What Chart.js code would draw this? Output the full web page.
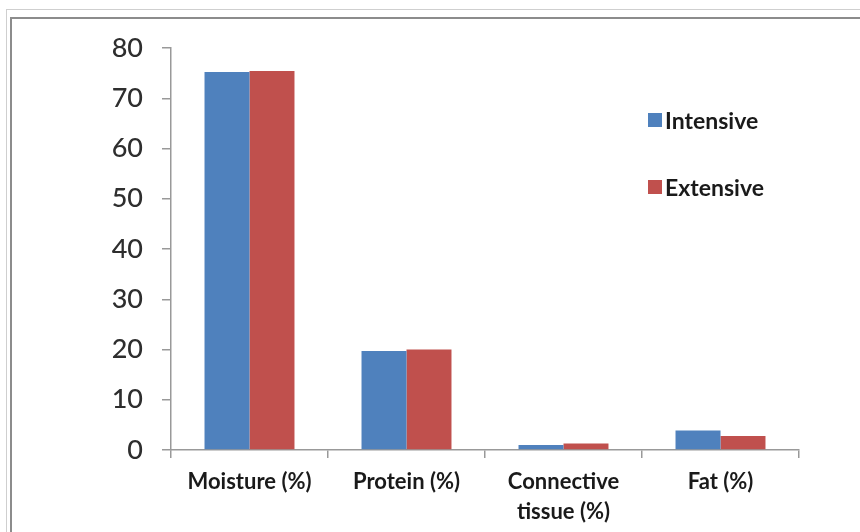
<!DOCTYPE html>
<html>
<head>
<meta charset="utf-8">
<script src="https://cdn.jsdelivr.net/npm/chart.js@4"></script>
<style>
  body { margin: 0; background: #fff; }
  #wrap { position: relative; width: 860px; height: 532px; overflow: hidden; }
  .frameOuter { position: absolute; left: 6px; top: 9px; width: 900px; height: 600px;
    border-top: 1px solid #cfcfcf; border-left: 1px solid #cfcfcf; }
  .frameInner { position: absolute; left: 10px; top: 17px; width: 900px; height: 600px;
    border-top: 2px solid #8c8c8c; border-left: 2px solid #8c8c8c; }
  #chartBox { position: absolute; left: 0; top: 0; width: 860px; height: 532px; }
  #legend { position: absolute; left: 648px; top: 0; font-family: Lato, sans-serif;
    font-size: 23px; font-weight: 700; color: #1a1a1a; }
  .item { position: absolute; white-space: nowrap; display: flex; align-items: center; }
  .swatch { width: 14px; height: 14px; margin-right: 3px; }
</style>
</head>
<body>
<div id="wrap">
  <div class="frameOuter"></div>
  <div class="frameInner"></div>
  <div id="chartBox"><canvas id="meatChart" width="860" height="532"></canvas></div>
  <div id="legend"></div>
</div>
<script>
const categories = ["Moisture (%)", "Protein (%)", ["Connective", "tissue (%)"], "Fat (%)"];
const seriesNames = ["Intensive", "Extensive"];
const intensive = [75.2, 19.7, 1.0, 3.9];
const extensive = [75.4, 20.0, 1.3, 2.8];
const yTicks = [0, 10, 20, 30, 40, 50, 60, 70, 80];

const colors = ["#4f81bd", "#c0504d"];
const axisColor = "#999999";

let ctx = document.getElementById("meatChart").getContext("2d");

config = {
  type: "bar",
  data: {
    labels: categories,
    datasets: [
      { label: seriesNames[0], data: intensive, backgroundColor: colors[0] },
      { label: seriesNames[1], data: extensive, backgroundColor: colors[1] },
    ],
  },
  options: {
    responsive: false,
    animation: false,
    layout: {
      padding: { top: 48, right: 61, left: 10, bottom: 0 },
    },
    datasets: {
      bar: { barPercentage: 1, categoryPercentage: 0.573 },
    },
    plugins: {
      legend: { display: false },
      tooltip: { enabled: false },
    },
    scales: {
      y: {
        min: 0,
        max: 80,
        afterFit: (scale) => {
          scale.width = 161;
        },
        afterBuildTicks: (scale) => {
          scale.ticks = yTicks.map((v) => ({ value: v }));
        },
        border: { display: true, color: axisColor, width: 1.5 },
        grid: {
          drawOnChartArea: false,
          drawTicks: true,
          tickLength: 9,
          color: axisColor,
          lineWidth: 1.5,
        },
        ticks: {
          padding: 19,
          color: "#2e2e2e",
          font: { family: "Lato", size: 27, weight: "500" },
        },
      },
      x: {
        afterFit: (scale) => {
          scale.height = 82;
        },
        border: { display: true, color: axisColor, width: 1.5 },
        grid: {
          offset: true,
          drawOnChartArea: false,
          drawTicks: true,
          tickLength: 8,
          color: axisColor,
          lineWidth: 1.5,
        },
        ticks: {
          padding: 9,
          color: "#1a1a1a",
          maxRotation: 0,
          font: { family: "Lato", size: 22, weight: "700", lineHeight: 1.36 },
        },
      },
    },
  },
};
const chart = new Chart(ctx, config);

// legend placed inside the plot, like the original
const legendTops = [120, 187];
const legendBox = document.getElementById("legend");
chart.data.datasets.forEach((ds, i) => {
  let item = document.createElement("div");
  item.className = "item";
  item.style.top = legendTops[i] - 14 + "px";
  item.innerHTML =
    '<span class="swatch" style="background:' + ds.backgroundColor + '"></span>' + ds.label;
  legendBox.appendChild(item);
});
</script>
</body>
</html>
